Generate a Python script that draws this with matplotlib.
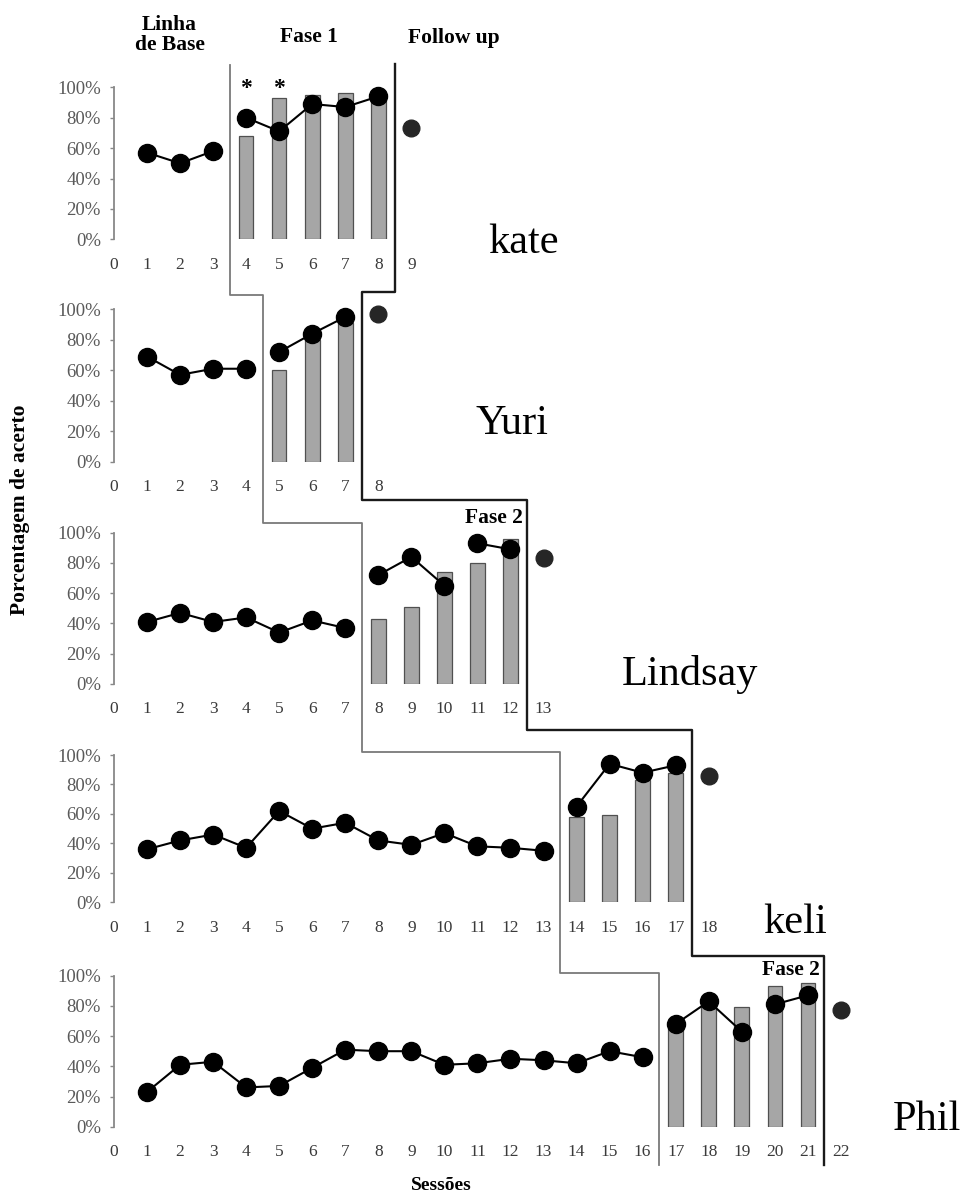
import numpy as np
import matplotlib
matplotlib.use("Agg")
import matplotlib.pyplot as plt
from matplotlib.transforms import blended_transform_factory
from matplotlib.lines import Line2D

plt.rcParams['font.family'] = ['Liberation Serif', 'DejaVu Serif']

# === Dados (% de acerto por sessão) ===
nomes = ["kate", "Yuri", "Lindsay", "keli", "Phil"]

# fases com pontos ligados (linha de base, fase 1, fase 2)
kate_fases = [[57, 50, 58], [80, 71, 89, 87, 94]]
kate_barras = [68, 93, 95, 96, 92]
kate_follow = 73

yuri_fases = [[69, 57, 61, 61], [72, 84, 95]]
yuri_barras = [60, 80, 91]
yuri_follow = 97

lindsay_fases = [[41, 47, 41, 44, 34, 42, 37], [72, 84, 65], [93, 89]]
lindsay_barras = [43, 51, 74, 80, 96]
lindsay_follow = 83

keli_fases = [[36, 42, 46, 37, 62, 50, 54, 42, 39, 47, 38, 37, 35],
              [65, 94, 88, 93]]
keli_barras = [58, 59, 83, 88]
keli_follow = 86

phil_fases = [[23, 41, 43, 26, 27, 39, 51, 50, 50, 41, 42, 45, 44, 42, 50, 46],
              [68, 83, 63], [81, 87]]
phil_barras = [66, 80, 79, 93, 95]
phil_follow = 77

todas_fases = [kate_fases, yuri_fases, lindsay_fases, keli_fases, phil_fases]
todas_barras = [kate_barras, yuri_barras, lindsay_barras, keli_barras, phil_barras]
todos_follow = [kate_follow, yuri_follow, lindsay_follow, keli_follow, phil_follow]

# mudança de fase (limites entre sessões)
mudanca_a = [3.5, 4.5, 7.5, 13.5, 16.5]   # linha de base -> intervenção
mudanca_b = [8.5, 7.5, 12.5, 17.5, 21.5]  # intervenção -> follow up

# === Layout (pixels) ===
W, H = 961, 1200
topo = [87.3, 309.3, 532.7, 755, 975.7]
base = [239.3, 461.7, 684, 902.3, 1126.7]
x0_px = 114.0
px_sessao = 33.04
xmax = (W - x0_px) / px_sessao

fig = plt.figure(figsize=(W / 100, H / 100), dpi=100)

eixos = []
for i in range(5):
    ax = fig.add_axes([x0_px / W, 1 - base[i] / H, (W - x0_px) / W, (base[i] - topo[i]) / H])
    eixos.append(ax)

    fases = todas_fases[i]
    barras = todas_barras[i]

    s = 1
    sess_barras = []
    for k, fase in enumerate(fases):
        sess = np.arange(s, s + len(fase))
        ax.plot(sess, fase, '-o', color='black', ms=13, lw=1.5, zorder=3, clip_on=False)
        if k > 0:
            sess_barras.extend(sess)
        s += len(fase)
    ax.bar(sess_barras, barras, width=0.44, color='#a6a6a6', edgecolor='#505050',
           linewidth=0.9, zorder=2)
    ax.plot([s], [todos_follow[i]], 'o', color='#262626', ms=12, zorder=3, clip_on=False)

    ax.set_xlim(0, xmax)
    ax.set_ylim(0, 100)
    ax.set_yticks(range(0, 101, 20))
    ax.set_yticklabels([f"{v}%" for v in range(0, 101, 20)])
    ax.set_xticks(range(0, s + 1))
    ax.set_xticklabels([str(v) for v in range(0, s + 1)])
    ax.tick_params(axis='x', length=0, pad=12.5, labelsize=12.5, labelcolor='#3a3a3a')
    ax.tick_params(axis='y', length=3, width=1, color='#888888', pad=6.5,
                   labelsize=13.5, labelcolor='#5a5a5a')
    for lado in ['top', 'right', 'bottom']:
        ax.spines[lado].set_visible(False)
    ax.spines['left'].set_color('#888888')
    ax.spines['left'].set_linewidth(1.3)
    ax.patch.set_alpha(0)

# linhas de mudança de fase (x em sessões, y em pixels da figura)
trans = blended_transform_factory(eixos[0].transData, fig.transFigure)


def escada(limites, y_topo, degraus, y_fim):
    xs, ys = [limites[0]], [y_topo]
    for j, yd in enumerate(degraus):
        xs += [limites[j], limites[j + 1]]
        ys += [yd, yd]
    xs.append(limites[-1])
    ys.append(y_fim)
    return xs, [1 - y / H for y in ys]


xa, ya = escada(mudanca_a, 65, [295, 523, 752, 973], 1165)
xb, yb = escada(mudanca_b, 64, [292, 500, 730, 956], 1165)
fig.add_artist(Line2D(xa, ya, transform=trans, color='#7a7a7a', lw=1.3))
fig.add_artist(Line2D(xb, yb, transform=trans, color='#1a1a1a', lw=1.7))

# títulos das fases
negrito = dict(fontweight='bold', fontsize=15.5, ha='center', va='center', transform=trans)
fig.text(1.68, 1 - 35 / H, "Linha\nde Base", linespacing=1.0, **negrito)
fig.text(5.9, 1 - 37 / H, "Fase 1", **negrito)
fig.text(10.3, 1 - 38 / H, "Follow up", **negrito)
fig.text(11.5, 1 - 518 / H, "Fase 2", **negrito)
fig.text(20.5, 1 - 970 / H, "Fase 2", **negrito)
for sx in [4, 5]:
    eixos[0].text(sx, 99, "*", fontsize=17, fontweight='bold', ha='center', va='center')

# nomes dos participantes
pos_nomes = [(488, 253), (476, 434), (622, 685), (763, 933), (893, 1130)]
for nome, (px, py) in zip(nomes, pos_nomes):
    fig.text(px / W, 1 - py / H, nome, fontsize=30.5, ha='left', va='baseline')

fig.text(20 / W, 1 - 510 / H, "Porcentagem de acerto", rotation=90, fontweight='bold',
         fontsize=15.5, ha='center', va='center')
fig.text(441 / W, 1 - 1185 / H, "Sessões", fontweight='bold', fontsize=14,
         ha='center', va='center')

fig.savefig("out.png", dpi=100)
